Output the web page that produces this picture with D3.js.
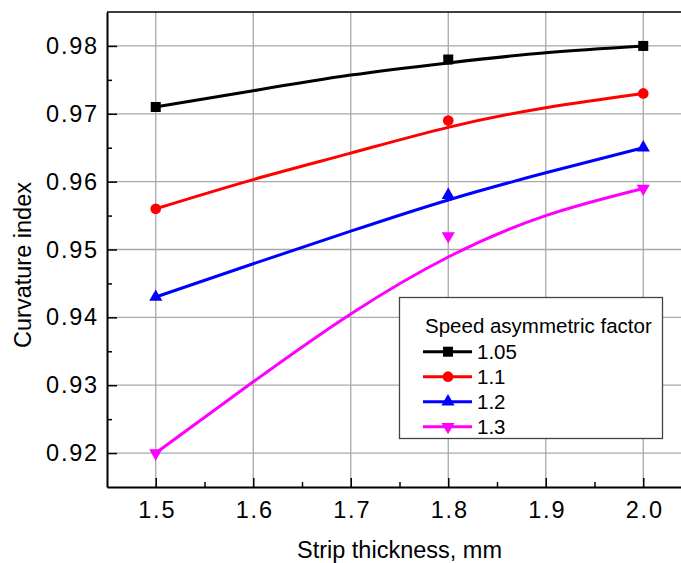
<!DOCTYPE html>
<html>
<head>
<meta charset="utf-8">
<script src="https://cdn.jsdelivr.net/npm/d3@7"></script>
<style>
  body { margin: 0; background: #fff; }
  svg { display: block; }
  text { font-family: "Liberation Sans", Arial, sans-serif; fill: #000; }
</style>
</head>
<body>
<svg id="chart" width="681" height="563"></svg>
<script>
// Measured points: strip thickness (mm) vs curvature index
const thickness = [1.5, 1.8, 2.0];
const factorLabels = ["1.05", "1.1", "1.2", "1.3"];
const curvature105 = [0.971, 0.978, 0.980];
const curvature11  = [0.956, 0.969, 0.973];
const curvature12  = [0.943, 0.958, 0.965];
const curvature13  = [0.920, 0.952, 0.959];

// Smoothed trend curves for each factor
const trendThickness = [1.5, 1.6, 1.7, 1.8, 1.9, 2.0];
const trend105 = [0.971, 0.9734, 0.9757, 0.9775, 0.9790, 0.980];
const trend11  = [0.956, 0.9603, 0.9642, 0.9680, 0.9709, 0.973];
const trend12  = [0.943, 0.9479, 0.9527, 0.9573, 0.9613, 0.965];
const trend13  = [0.920, 0.9305, 0.9405, 0.9489, 0.9550, 0.959];

const xTicks = [1.5, 1.6, 1.7, 1.8, 1.9, 2.0];
const yTicks = [0.92, 0.93, 0.94, 0.95, 0.96, 0.97, 0.98];

const series = [
  { label: factorLabels[0], values: curvature105, trend: trend105, color: "#000000", symbol: d3.symbolSquare,   size: 100, rotate: 0 },
  { label: factorLabels[1], values: curvature11,  trend: trend11,  color: "#ff0000", symbol: d3.symbolCircle,   size: 90,  rotate: 0 },
  { label: factorLabels[2], values: curvature12,  trend: trend12,  color: "#0000ff", symbol: d3.symbolTriangle, size: 75,  rotate: 0 },
  { label: factorLabels[3], values: curvature13,  trend: trend13,  color: "#ff00ff", symbol: d3.symbolTriangle, size: 75,  rotate: 180 }
];

const svg = d3.select("#chart");
const plotL = 107, plotR = 692, plotT = 12, plotB = 487;

const x = d3.scaleLinear().domain([1.45, 2.05]).range([plotL, plotR]);
const y = d3.scaleLinear().domain([0.915, 0.985]).range([plotB, plotT]);

// grid
const grid = svg.append("g").attr("stroke", "#a8a8a8").attr("stroke-width", 1.3);
grid.selectAll("line.gx").data(xTicks).join("line")
  .attr("x1", d => x(d)).attr("x2", d => x(d)).attr("y1", plotT).attr("y2", plotB);
grid.selectAll("line.gy").data(yTicks).join("line")
  .attr("x1", plotL).attr("x2", plotR).attr("y1", d => y(d)).attr("y2", d => y(d));

// frame (top and right)
svg.append("path")
  .attr("d", `M${plotL},${plotT}H${plotR}V${plotB}`)
  .attr("fill", "none").attr("stroke", "#000").attr("stroke-width", 1.5);

const fmt1 = d3.format(".1f"), fmt2 = d3.format(".2f");

// y axis
const yAxis = svg.append("g").attr("transform", `translate(${plotL},0)`)
  .call(d3.axisLeft(y).tickValues(yTicks).tickFormat(fmt2).tickSizeInner(-10).tickSizeOuter(0).tickPadding(8));
const yMinor = svg.append("g").attr("transform", `translate(${plotL},0)`)
  .call(d3.axisLeft(y).tickValues(d3.range(0.925, 0.985, 0.01)).tickFormat("").tickSizeInner(-5).tickSizeOuter(0));
yMinor.select(".domain").remove();

// x axis
const xAxis = svg.append("g").attr("transform", `translate(0,${plotB})`)
  .call(d3.axisBottom(x).tickValues(xTicks).tickFormat(fmt1).tickSizeInner(-9).tickSizeOuter(0).tickPadding(14));
const xMinor = svg.append("g").attr("transform", `translate(0,${plotB})`)
  .call(d3.axisBottom(x).tickValues(d3.range(1.55, 2.05, 0.1)).tickFormat("").tickSizeInner(-5).tickSizeOuter(0));
xMinor.select(".domain").remove();

svg.selectAll(".tick line").attr("stroke", "#000").attr("stroke-width", 1.5);
[xAxis, yAxis].forEach(a => a.select(".domain").attr("stroke", "#000").attr("stroke-width", 2));
[xAxis, yAxis].forEach(a => a.selectAll(".tick text")
  .attr("font-family", "\"Liberation Sans\", Arial, sans-serif")
  .attr("font-size", 23.5).attr("letter-spacing", "1.8px").attr("fill", "#000"));
xAxis.selectAll(".tick text").attr("dx", "1px");

// axis titles
svg.append("text")
  .attr("x", 399.5).attr("y", 558)
  .attr("text-anchor", "middle").attr("font-size", 23.5)
  .text("Strip thickness, mm");
svg.append("text")
  .attr("transform", "translate(31,265) rotate(-90)")
  .attr("text-anchor", "middle").attr("font-size", 23.5)
  .text("Curvature index");

// curves and markers
const line = d3.line().x(d => x(d[0])).y(d => y(d[1])).curve(d3.curveNatural);
const plot = svg.append("g");
series.forEach(s => {
  plot.append("path")
    .attr("d", line(trendThickness.map((t, i) => [t, s.trend[i]])))
    .attr("fill", "none").attr("stroke", s.color).attr("stroke-width", 3);
  plot.selectAll(null).data(thickness.map((t, i) => [t, s.values[i]])).join("path")
    .attr("d", d3.symbol(s.symbol, s.size))
    .attr("transform", d => `translate(${x(d[0])},${y(d[1])}) rotate(${s.rotate})`)
    .attr("fill", s.color);
});

// legend
const lg = svg.append("g");
lg.append("rect").attr("x", 399.5).attr("y", 297.5).attr("width", 263).attr("height", 141)
  .attr("fill", "#fff").attr("stroke", "#444").attr("stroke-width", 1.3);
lg.append("text").attr("x", 425).attr("y", 333).attr("font-size", 20.5).text("Speed asymmetric factor");
series.forEach((s, i) => {
  const cy = 351.7 + i * 25;
  lg.append("line").attr("x1", 423).attr("x2", 472).attr("y1", cy).attr("y2", cy)
    .attr("stroke", s.color).attr("stroke-width", 3);
  lg.append("path").attr("d", d3.symbol(s.symbol, s.size))
    .attr("transform", `translate(448,${cy}) rotate(${s.rotate})`).attr("fill", s.color);
  lg.append("text").attr("x", 477).attr("y", cy + 7.5).attr("font-size", 20.5).text(s.label);
});
</script>
</body>
</html>
